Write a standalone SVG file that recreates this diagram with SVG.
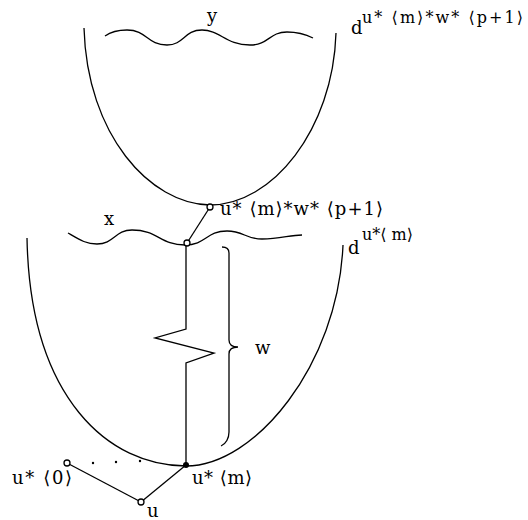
<svg xmlns="http://www.w3.org/2000/svg" width="528" height="520" viewBox="0 0 528 520">
<style>
.ln{fill:none;stroke:#000;stroke-width:1.3}
.t{font-family:"DejaVu Serif","Liberation Serif",serif;font-size:18px;fill:#000}
.s{font-family:"DejaVu Serif","Liberation Serif",serif;font-size:16px;fill:#000}
.oc{fill:#fff;stroke:#000;stroke-width:1.3}
</style>
<rect width="528" height="520" fill="#fff"/>
<g id="bowl-upper">
<path class="ln" d="M84 28 C87 135 150 204 210 205 C272 205 333 130 336 33"/>
<path class="ln" d="M105 36 C112 31 118 30 127 30 C147 30 147 45 167 45 C184 45 184 30 202 30 C220 30 226 45 250 45 C269 45 269 32 287 32 C300 32 307 35 313 38"/>
<text class="t" x="207" y="22">y</text>
<text class="t" x="351" y="34">d</text>
<text class="s" x="362" y="23" textLength="161">u* ⟨m⟩*w* ⟨p+1⟩</text>
</g>
<g id="bowl-lower">
<path class="ln" d="M27 238 C30 400 110 466 186 466 C255 466 338 365 343 245"/>
<path class="ln" d="M68 233 C80 240 86 244 97 244 C114 244 115 230 132 230 C158 230 160 245 185 245 C206 245 206 231 227 231 C244 231 245 239 262 239 C280 239 290 235 302 235"/>
<text class="t" x="104" y="225">x</text>
<text class="t" x="348" y="254">d</text>
<text class="s" x="362" y="240" textLength="51">u*⟨ m⟩</text>
</g>
<g id="connectors">
<line class="ln" x1="210" y1="207" x2="187" y2="243"/>
<polyline class="ln" points="186,245 186,329 155,338 214,353 186,363 186,465"/>
<path class="ln" d="M222 247 C226 247 229 249 229 253 L229 340 C229 344 232 347 238 347 C232 347 229 350 229 354 L229 432 C229 438 226 444 221 446"/>
<line class="ln" x1="67" y1="463" x2="141" y2="502"/>
<line class="ln" x1="141" y1="502" x2="186" y2="465"/>
</g>
<g id="points">
<circle class="oc" cx="210" cy="207" r="3"/>
<circle class="oc" cx="187" cy="243" r="3"/>
<circle cx="186" cy="465" r="3" fill="#000"/>
<circle class="oc" cx="67" cy="463" r="3"/>
<circle class="oc" cx="141" cy="502" r="3"/>
<circle cx="93" cy="463" r="1.2" fill="#000"/>
<circle cx="116" cy="462" r="1.2" fill="#000"/>
<circle cx="140" cy="461" r="1.2" fill="#000"/>
</g>
<g id="labels">
<text class="t" x="220" y="215" textLength="163">u* ⟨m⟩*w* ⟨p+1⟩</text>
<text class="t" x="255" y="354">w</text>
<text class="t" x="192" y="484" textLength="60">u* ⟨m⟩</text>
<text class="t" x="12" y="484" textLength="60">u* ⟨0⟩</text>
<text class="t" x="147" y="517">u</text>
</g>
</svg>
